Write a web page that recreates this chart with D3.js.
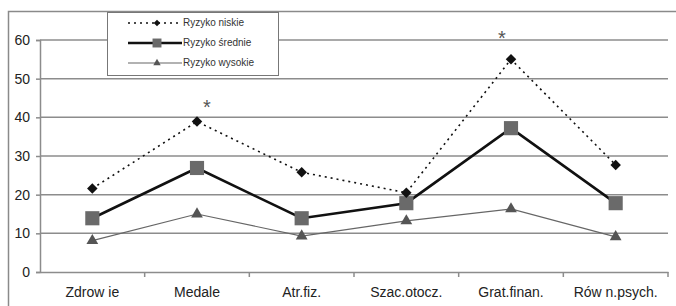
<!DOCTYPE html>
<meta charset="utf-8">
<head>
  <title>Ryzyko</title>
</head>
<style>
body { margin: 0; background: #fff; font-family: "Liberation Sans", Arial, sans-serif; }
.tick text { fill: #222; }
</style>
<body>
<script src="https://d3js.org/d3.v7.min.js"></script>
<script>

// data
var categories = ["Zdrow ie", "Medale", "Atr.fiz.", "Szac.otocz.", "Grat.finan.", "Rów n.psych."];
var niskie   = [21.6, 38.9, 25.8, 20.5, 55.0, 27.7];
var srednie  = [13.9, 26.9, 13.9, 17.8, 37.2, 17.8];
var wysokie  = [8.1, 15.0, 9.3, 13.2, 16.3, 9.1];
var yTicks   = [0, 10, 20, 30, 40, 50, 60];
var stars    = [{cat: "Medale", v: 43.5, dx: 10}, {cat: "Grat.finan.", v: 61.3, dx: -9}];

var w = 676, h = 306;
var margin = {top: 40, right: 8, bottom: 34, left: 40};

var svg = d3.select("body").append("svg")
  .attr("width", w)
  .attr("height", h);

// outer frame
svg.append("rect")
  .attr("x", 8.5).attr("y", 11.5)
  .attr("width", w + 20).attr("height", h + 20)
  .attr("fill", "none")
  .attr("stroke", "#8a8a8a")
  .attr("stroke-width", 1.5);

var x = d3.scaleBand()
  .domain(categories)
  .range([margin.left, w - margin.right]);

var y = d3.scaleLinear()
  .domain([0, 60])
  .range([h - margin.bottom, margin.top]);

// gridlines
svg.append("g")
  .selectAll("line")
  .data(yTicks.filter(function(d) { return d > 0; }))
  .enter().append("line")
  .attr("x1", margin.left).attr("x2", w - margin.right)
  .attr("y1", function(d) { return y(d); })
  .attr("y2", function(d) { return y(d); })
  .attr("stroke", "#8c8c8c")
  .attr("stroke-width", 1.5);

// y axis
var yAxis = svg.append("g")
  .attr("transform", "translate(" + margin.left + ",0)")
  .call(d3.axisLeft(y).tickValues(yTicks).tickSize(4).tickPadding(6));
yAxis.selectAll("text").style("font-size", "14px");

// x axis
var xAxis = svg.append("g")
  .attr("transform", "translate(0," + (h - margin.bottom) + ")")
  .call(d3.axisBottom(x).tickSize(0).tickPadding(15));
xAxis.selectAll("text").style("font-size", "14px");
// ticks between categories
xAxis.selectAll(".sep")
  .data(categories)
  .enter().append("line")
  .attr("class", "sep")
  .attr("x1", function(d) { return x(d) + x.bandwidth(); })
  .attr("x2", function(d) { return x(d) + x.bandwidth(); })
  .attr("y1", 0).attr("y2", 5)
  .attr("stroke", "#8c8c8c").attr("stroke-width", 1.5);
svg.selectAll(".domain").attr("stroke", "#8c8c8c").attr("stroke-width", 1.5);
yAxis.selectAll(".tick line").attr("stroke", "#8c8c8c").attr("stroke-width", 1.5);

function cx(i) { return x(categories[i]) + x.bandwidth() / 2; }

var line = d3.line()
  .x(function(d, i) { return cx(i); })
  .y(function(d) { return y(d); });

var series = [
  {name: "Ryzyko niskie", values: niskie, stroke: "#111", width: 1.6, dash: "2,4", sym: d3.symbolSquare, rot: 45, size: 55, fill: "#111"},
  {name: "Ryzyko średnie", values: srednie, stroke: "#111", width: 2.6, dash: null, sym: d3.symbolSquare, rot: 0, size: 200, fill: "#6a6a6a"},
  {name: "Ryzyko wysokie", values: wysokie, stroke: "#666", width: 1.2, dash: null, sym: d3.symbolTriangle, rot: 0, size: 60, fill: "#555"}
];

series.slice().reverse().forEach(function(s) {
  svg.append("path")
    .datum(s.values)
    .attr("d", line)
    .attr("fill", "none")
    .attr("stroke", s.stroke)
    .attr("stroke-width", s.width)
    .attr("stroke-dasharray", s.dash);
  svg.selectAll(null)
    .data(s.values)
    .enter().append("path")
    .attr("d", d3.symbol().type(s.sym).size(s.size))
    .attr("transform", function(d, i) { return "translate(" + cx(i) + "," + y(d) + ") rotate(" + s.rot + ")"; })
    .attr("fill", s.fill);
});

// asterisks
svg.selectAll(".star")
  .data(stars)
  .enter().append("text")
  .attr("class", "star")
  .attr("x", function(d) { return x(d.cat) + x.bandwidth() / 2 + d.dx; })
  .attr("y", function(d) { return y(d.v) + 5; })
  .attr("text-anchor", "middle")
  .attr("dominant-baseline", "middle")
  .attr("fill", "#555")
  .style("font-size", "20px")
  .text("*");

// legend
var lg = svg.append("g").attr("transform", "translate(107,12)");
lg.append("rect")
  .attr("x", 0.5).attr("y", 0.5)
  .attr("width", 171).attr("height", 63)
  .attr("fill", "#fff")
  .attr("stroke", "#777")
  .attr("stroke-width", 1);
series.forEach(function(s, i) {
  var ly = 11 + i * 20;
  lg.append("line")
    .attr("x1", 21).attr("x2", 75)
    .attr("y1", ly).attr("y2", ly)
    .attr("stroke", s.stroke)
    .attr("stroke-width", s.width)
    .attr("stroke-dasharray", s.dash);
  lg.append("path")
    .attr("d", d3.symbol().type(s.sym).size(s.size * 0.4))
    .attr("transform", "translate(50," + ly + ") rotate(" + s.rot + ")")
    .attr("fill", s.fill);
  lg.append("text")
    .attr("x", 76).attr("y", ly)
    .attr("dominant-baseline", "middle")
    .attr("fill", "#333")
    .style("font-size", "10px")
    .text(s.name);
});

</script>
</body>
</html>
